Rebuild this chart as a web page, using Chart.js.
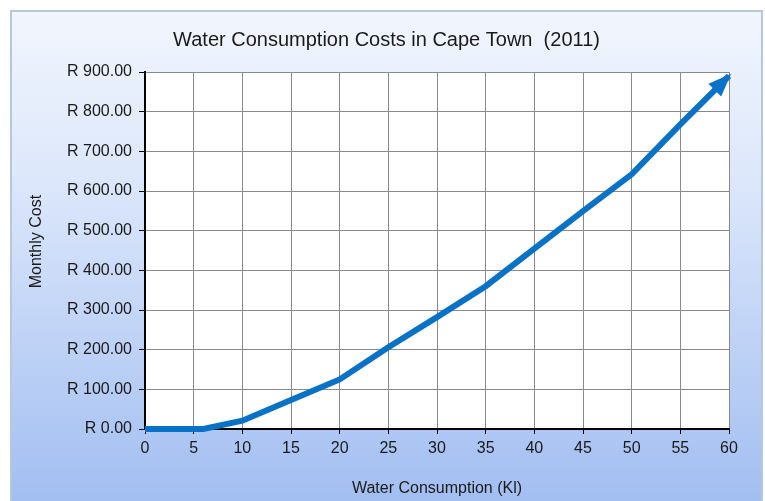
<!DOCTYPE html>
<html>
<head>
<meta charset="utf-8">
<script src="https://cdn.jsdelivr.net/npm/chart.js@4"></script>
<style>
  html, body { margin: 0; padding: 0; background: #fff; }
  #wrap { width: 765px; height: 501px; }
</style>
</head>
<body>
<div id="wrap"><canvas id="waterChart" width="765" height="501"></canvas></div>
<script>
// Water consumption (kl) vs monthly cost (rand)
const consumption = [0, 6, 10, 15, 20, 25, 30, 35, 40, 45, 50, 55, 60];
const monthlyCost = [0, 0, 21, 73, 125, 206, 282, 360, 455, 549, 642, 768, 890];
const xTicks = [0, 5, 10, 15, 20, 25, 30, 35, 40, 45, 50, 55, 60];
const yTicks = [0, 100, 200, 300, 400, 500, 600, 700, 800, 900];

const FONT = "'Liberation Sans', Arial, sans-serif";
const LINE_COLOR = '#0a72c6';

// gradient panel + white plot area
const panelBg = {
    id: 'panelBg',
    beforeDraw(chart) {
        const { ctx, chartArea } = chart;
        ctx.save();
        ctx.fillStyle = '#ffffff';
        ctx.fillRect(0, 0, chart.width, chart.height);
        const g = ctx.createLinearGradient(0, 10, 0, chart.height);
        g.addColorStop(0, '#f2f6fd');
        g.addColorStop(0.35, '#dce7fb');
        g.addColorStop(1, '#a2bef1');
        ctx.fillStyle = g;
        ctx.fillRect(11, 11, 751, chart.height);
        ctx.strokeStyle = '#b9c7dc';
        ctx.lineWidth = 2;
        ctx.strokeRect(11, 11, 751, chart.height + 5);
        ctx.fillStyle = '#ffffff';
        ctx.fillRect(chartArea.left, chartArea.top, chartArea.right - chartArea.left, chartArea.bottom - chartArea.top);
        ctx.restore();
    }
};

// arrow head at the end of the line
const arrowHead = {
    id: 'arrowHead',
    afterDatasetsDraw(chart) {
        const pts = chart.getDatasetMeta(0).data;
        const a = pts[pts.length - 2], b = pts[pts.length - 1];
        const ang = Math.atan2(b.y - a.y, b.x - a.x);
        const len = 20, half = 9;
        const { ctx } = chart;
        ctx.save();
        ctx.translate(b.x, b.y);
        ctx.rotate(ang);
        ctx.beginPath();
        ctx.moveTo(3, 0);
        ctx.lineTo(-len, -half);
        ctx.lineTo(-len, half);
        ctx.closePath();
        ctx.fillStyle = LINE_COLOR;
        ctx.fill();
        ctx.restore();
    }
};

const ctx = document.getElementById('waterChart').getContext('2d');
const waterChart = new Chart(ctx, {
    type: 'line',
    data: {
        datasets: [{
            label: 'Monthly Cost',
            data: consumption.map((x, i) => ({ x: x, y: monthlyCost[i] })),
            borderColor: LINE_COLOR,
            borderWidth: 6,
            pointRadius: 0,
            tension: 0,
            fill: false,
            clip: false
        }]
    },
    options: {
        responsive: false,
        animation: false,
        layout: { padding: { top: 12, right: 36, left: 44, bottom: 0 } },
        plugins: {
            legend: { display: false },
            tooltip: { enabled: false },
            title: {
                display: true,
                text: 'Water Consumption Costs in Cape Town  (2011)',
                color: '#1a1a1a',
                font: { family: FONT, size: 20, weight: 'normal' },
                padding: { top: 16, bottom: 20 }
            }
        },
        scales: {
            x: {
                type: 'linear',
                min: 0,
                max: 60,
                afterBuildTicks(scale) { scale.ticks = xTicks.map(v => ({ value: v })); },
                afterFit(scale) { scale.height = 72; },
                ticks: {
                    color: '#1a1a1a',
                    font: { family: FONT, size: 16 },
                    padding: 5,
                    maxRotation: 0
                },
                grid: { color: '#8a8a8a', lineWidth: 1, tickColor: '#000', tickLength: 5 },
                border: { color: '#000', width: 2 },
                title: {
                    display: true,
                    text: 'Water Consumption (Kl)',
                    color: '#1a1a1a',
                    font: { family: FONT, size: 16 },
                    padding: { top: 5, bottom: 3 }
                }
            },
            y: {
                min: 0,
                max: 900,
                afterBuildTicks(scale) { scale.ticks = yTicks.map(v => ({ value: v })); },
                afterFit(scale) { scale.width = 101; },
                ticks: {
                    color: '#1a1a1a',
                    font: { family: FONT, size: 16 },
                    padding: 7,
                    callback: v => 'R ' + v.toFixed(2)
                },
                grid: { color: '#8a8a8a', lineWidth: 1, tickColor: '#000', tickLength: 6 },
                border: { color: '#000', width: 2 },
                title: {
                    display: true,
                    text: '    Monthly Cost',
                    color: '#1a1a1a',
                    font: { family: FONT, size: 16 },
                    padding: { top: -17, bottom: 0 }
                }
            }
        }
    },
    plugins: [panelBg, arrowHead]
});
</script>
</body>
</html>
